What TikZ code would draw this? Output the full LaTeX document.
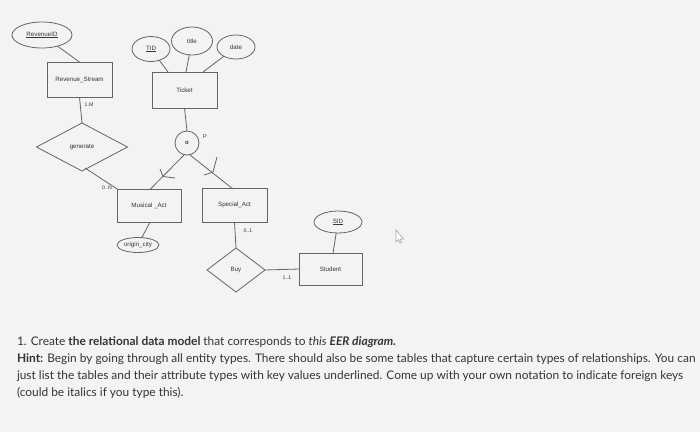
\documentclass[tikz,border=0pt]{standalone}
\usepackage{fontspec}
\setmainfont{Lato}
\newfontfamily\diagfont{Liberation Sans}
\usetikzlibrary{shapes.geometric}
\definecolor{bgc}{HTML}{F3F3F2}
\definecolor{linec}{HTML}{646464}
\definecolor{txtc}{HTML}{353535}
\begin{document}
\begin{tikzpicture}[x=1pt,y=-1pt,
  every node/.style={inner sep=0pt, outer sep=0pt, text=txtc},
  ln/.style={draw=linec, line width=0.8pt},
  ent/.style={ln, rectangle, font=\diagfont\fontsize{6.2}{7}\selectfont},
  attr/.style={ln, ellipse, font=\diagfont\fontsize{6.2}{7}\selectfont},
  rel/.style={ln, diamond, font=\diagfont\fontsize{6.2}{7}\selectfont},
  card/.style={font=\diagfont\fontsize{5.2}{6}\selectfont},
  conn/.style={draw=linec, line width=0.8pt},
  body/.style={anchor=base west, font=\fontsize{11.9}{14}\selectfont, text=txtc}
]
\fill[bgc] (0,0) rectangle (700,432);
\useasboundingbox (0,0) rectangle (700,432);

% Revenue stream part
\node[attr, minimum width=60, minimum height=26] (rid) at (42,35) {\underline{RevenueID}};
\node[ent, minimum width=65, minimum height=35] (rs) at (79.5,79.5) {Revenue\_Stream};
\node[rel, minimum width=91, minimum height=48] (gen) at (82,147) {generate};

% Ticket part
\node[attr, minimum width=38, minimum height=25] (tid) at (151,49) {\underline{TID}};
\node[attr, minimum width=41, minimum height=28] (title) at (192,41) {title};
\node[attr, minimum width=38, minimum height=24] (date) at (236,47) {date};
\node[ent, minimum width=65, minimum height=36] (ticket) at (184.5,90) {Ticket};
\node[ln, circle, minimum size=24, font=\diagfont\bfseries\fontsize{6}{7}\selectfont] (disj) at (187,143) {o};
\node[card, font=\diagfont\fontsize{5.5}{6}\selectfont] (plab) at (205,137) {P};

\node[ent, minimum width=64, minimum height=33] (mus) at (149,205.5) {Musical \_Act};
\node[ent, minimum width=65, minimum height=34] (spec) at (234.5,205) {Special\_Act};
\node[attr, minimum width=42, minimum height=15] (orig) at (138,245) {origin\_city};
\node[rel, minimum width=58, minimum height=44] (buy) at (236,270) {Buy};
\node[ent, minimum width=63, minimum height=32] (stu) at (330.5,269) {Student};
\node[attr, minimum width=48, minimum height=22] (sid) at (338,222) {\underline{SID}};

% connectors
\draw[conn] (rid) -- (rs.north);
\draw[conn] (rs.south) -- (gen.north);
\coordinate (gen1) at (85,168);
\coordinate (mustl) at (118,189.5);
\draw[conn] (gen1) -- (mustl);
\coordinate (tidend) at (168,72);
\coordinate (titleend) at (186,72);
\coordinate (dateend) at (203,72);
\draw[conn] (tid) -- (tidend);
\draw[conn] (title) -- (titleend);
\draw[conn] (date) -- (dateend);
\draw[conn] (ticket.south) -- (disj.north);
\coordinate (mtop) at (150,189.5);
\coordinate (stop) at (233,189);
\coordinate (dl) at (184,155);
\coordinate (dr) at (190,155);
\draw[conn] (dl) -- (mtop);
\draw[conn] (dr) -- (stop);
\coordinate (origend) at (150,222);
\draw[conn] (orig) -- (origend);
\draw[conn] (spec.south) -- (buy.north);
\draw[conn] (buy.east) -- (stu.west);
\coordinate (sidend) at (333,253);
\draw[conn] (sid) -- (sidend);

% subset marks
\draw[conn] (160,169) -- (163,176.5) -- (175,178);
\draw[conn] (217,157) -- (213,172) -- (204,175);

% cardinalities
\node[card] (c1) at (89,105) {1.M};
\node[card] (c2) at (107,188) {0..N};
\node[card] (c3) at (248,231) {0..1};
\node[card] (c4) at (287,278) {1..1};

% cursor
\draw[draw=gray!70, line width=0.6pt, fill=white] (396,230) -- (396,242) -- (398.5,239.5) -- (400,243) -- (401.5,242.3) -- (400,239) -- (403.5,239) -- cycle;

% question text
\node[body] (t1) at (17,345) {1. Create \textbf{the relational data model} that corresponds to \textit{this} \textbf{\textit{EER diagram.}}};
\node[body] (t2) at (17,362) {\textbf{Hint:} Begin by going through all entity types. There should also be some tables that capture certain types of relationships. You can};
\node[body] (t3) at (17,379) {just list the tables and their attribute types with key values underlined. Come up with your own notation to indicate foreign keys};
\node[body] (t4) at (17,396) {(could be italics if you type this).};
\end{tikzpicture}
\end{document}
